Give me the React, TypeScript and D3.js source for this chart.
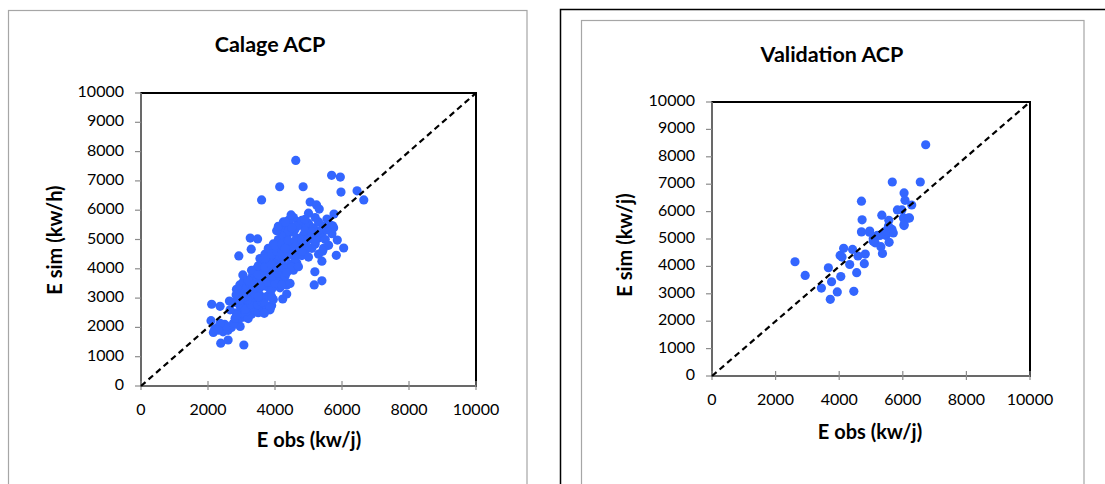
import React from "react";
import * as d3 from "d3";

const xTicks = [0, 2000, 4000, 6000, 8000, 10000];
const yTicks = [0, 1000, 2000, 3000, 4000, 5000, 6000, 7000, 8000, 9000, 10000];

// Calage ACP: [E obs, E sim]
const calageOutliers: [number, number][] = [
  [4620, 7700], [5690, 7190], [5950, 7130], [4140, 6800], [4840, 6800], [5970, 6620],
  [6450, 6660], [6650, 6350], [3600, 6350], [5050, 6280], [5240, 6180], [5320, 6040],
  [5760, 5870], [4480, 5840], [4310, 5590], [4900, 5690], [5000, 5900], [5640, 5500],
  [5720, 5470], [5540, 5330], [3260, 5050], [3480, 5020], [3290, 4670], [5860, 4980],
  [6050, 4710], [5830, 4460], [5420, 4600], [5400, 4260], [2920, 4440], [5190, 3900],
  [5400, 3590], [5170, 3450], [3040, 3790], [2110, 2790], [2360, 2720], [2640, 2900],
  [2090, 2230], [2160, 1830], [2380, 1460], [2600, 1570], [3070, 1400], [4230, 2970],
  [4350, 3140], [4450, 3500], [4700, 4070], [4350, 3870], [3750, 2600], [3860, 2660],
  [3680, 2480], [2960, 2030], [2560, 2030], [2760, 2140], [2360, 2140], [2310, 1910],
  [2810, 2310], [2860, 2420], [2660, 2600], [2960, 2940], [2840, 3110],
];

const calageCore: [number, number][] = [
  [3050, 2350], [3200, 2300], [3300, 2450], [3150, 2550], [3400, 2600], [3500, 2500],
  [3600, 2700], [3250, 2700], [3700, 2550], [3850, 2600], [3900, 2750],
  [2800, 2850], [2900, 3000], [3000, 3100], [3100, 2900], [3200, 3050], [3300, 2850],
  [3350, 3150], [3450, 2950], [3550, 3100], [3650, 2900], [3750, 3050], [3850, 3150],
  [3950, 2950], [3050, 3200], [2950, 2750], [3400, 3200],
  [2850, 3300], [2950, 3450], [3050, 3550],
  [3150, 3350], [3250, 3500], [3350, 3400], [3450, 3600], [3550, 3350], [3650, 3550],
  [3750, 3400], [3850, 3650], [3950, 3450], [4050, 3600], [4150, 3350], [4250, 3550],
  [3300, 3700], [3500, 3700], [3700, 3700], [3900, 3300], [4100, 3750], [4350, 3450],
  [3350, 3850], [3450, 4000], [3550, 3850], [3650, 4100], [3750, 3900], [3850, 4050],
  [3950, 3850], [4050, 4150], [4150, 3950], [4250, 4100], [4350, 3900], [4450, 4150],
  [4550, 3950], [4650, 4200], [3600, 4200], [3800, 4250], [4000, 4300], [4200, 4250],
  [3550, 4350], [3700, 4500], [3850, 4400], [3950, 4600], [4100, 4450], [4250, 4650],
  [4350, 4400], [4500, 4550], [4600, 4350], [4700, 4650], [4800, 4450], [4900, 4600],
  [5000, 4400], [5100, 4700], [3800, 4700], [4150, 4750], [4450, 4750],
  [3950, 4850], [4100, 5000], [4250, 4900], [4350, 5100], [4500, 4850], [4650, 5050],
  [4750, 4900], [4850, 5150], [4950, 4950], [5100, 5100], [5200, 4850], [5300, 5050],
  [5400, 5200], [4200, 5200], [4550, 5250], [4050, 5300], [5050, 5300],
  [4300, 5400], [4450, 5500], [4600, 5350], [4700, 5600], [4850, 5450], [5000, 5550],
  [5150, 5400], [5300, 5600], [5450, 5450], [5550, 5700], [4550, 5750], [4400, 5650],
  [5200, 5750], [4100, 5450], [4250, 5600],
  [5500, 5000], [5600, 4800], [5700, 5200], [5450, 4700], [5300, 4500], [5600, 5500],
  [5750, 5400],
  [2300, 2000], [2450, 1850], [2500, 2100], [2200, 1950], [2600, 1900], [2700, 2000],
  [2900, 2200], [3000, 2500], [2850, 2500],
  [3120, 2620], [3280, 2780], [3480, 2780], [3580, 2880], [3380, 3030], [3180, 2950],
  [3700, 2800], [3900, 3050], [3500, 3050], [3100, 3050],
  [3200, 3600], [3400, 3500], [3600, 3450], [3800, 3550], [4000, 3500], [4200, 3450],
  [3300, 3950], [3500, 3800], [3700, 3800], [3900, 3750], [4100, 3850], [4300, 3750],
  [3500, 4100], [3700, 4050], [3900, 4150], [4100, 4050], [4300, 4000], [4500, 4050],
  [3700, 4350], [3900, 4500], [4050, 4600], [4200, 4500], [4400, 4550], [4600, 4500],
  [4800, 4600], [4000, 4800], [4200, 4850], [4400, 4950], [4600, 4950], [4800, 5000],
  [5000, 5050], [4300, 4700], [4600, 4750], [4900, 4800], [5200, 4950], [5250, 5250],
  [4400, 5300], [4650, 5450], [4900, 5300], [5100, 5250], [4800, 5650], [5400, 5350],
  [4500, 5400],
];

// Validation ACP: [E obs, E sim]
const validationPoints: [number, number][] = [
  [6720, 8440], [5670, 7080], [6550, 7080], [6040, 6680], [6070, 6410], [6280, 6240],
  [4700, 6380], [5830, 6060], [5970, 6060], [5340, 5870], [5560, 5680], [4720, 5700],
  [6020, 5770], [6170, 5760], [6040, 5530], [5660, 5350], [5550, 5470], [4700, 5260],
  [4960, 5290], [5280, 5130], [5470, 5130], [5070, 5010], [5130, 4860], [5570, 4880],
  [5310, 4720], [5360, 4470], [4140, 4660], [4420, 4620], [4030, 4400], [4090, 4340],
  [4590, 4380], [4820, 4450], [4330, 4070], [4790, 4100], [3660, 3950], [4050, 3630],
  [4550, 3770], [3760, 3440], [2610, 4170], [2930, 3670], [3440, 3210], [3940, 3070],
  [4460, 3090], [3720, 2800], [6210, 5770], [5200, 5130], [5070, 4920], [4950, 5250],
  [6040, 5490], [5700, 5220], [5460, 5290],
];

const FONT = "Lato, 'Open Sans', 'DejaVu Sans', sans-serif";
const DOT = "#3366ff";
const AXIS_GRAY = "#8c8c8c";

type PanelProps = {
  points: [number, number][];
  title: string;
  xTitle: string;
  yTitle: string;
  left: number;
  right: number;
  top: number;
  bottom: number;
  titleX: number;
  titleY: number;
  xTitleX: number;
  xTitleY: number;
  yTitleX: number;
  yTitleY: number;
};

function Panel(p: PanelProps) {
  const x = d3.scaleLinear().domain([0, 10000]).range([p.left, p.right]);
  const y = d3.scaleLinear().domain([0, 10000]).range([p.bottom, p.top]);
  const diag = d3.line<number>().x((d) => x(d)).y((d) => y(d))([0, 10000]) || "";
  return (
    <g>
      <text x={p.titleX} y={p.titleY} textAnchor="middle" dominantBaseline="middle"
        fontFamily={FONT} fontWeight={700} fontSize={21.5} fill="#000">{p.title}</text>
      <rect x={p.left} y={p.top} width={p.right - p.left} height={p.bottom - p.top}
        fill="#fff" stroke="#000" strokeWidth={2} />
      <line x1={p.left} x2={p.left} y1={p.top} y2={p.bottom} stroke={AXIS_GRAY} strokeWidth={1.5} />
      <line x1={p.left} x2={p.right} y1={p.bottom} y2={p.bottom} stroke={AXIS_GRAY} strokeWidth={1.5} />
      {yTicks.map((t) => (
        <g key={"y" + t}>
          <line x1={p.left - 6} x2={p.left} y1={y(t)} y2={y(t)} stroke={AXIS_GRAY} strokeWidth={1.2} />
          <text x={p.left - 17} y={y(t)} textAnchor="end" dominantBaseline="middle"
            fontFamily={FONT} fontSize={16} fill="#000">{t}</text>
        </g>
      ))}
      {xTicks.map((t) => (
        <g key={"x" + t}>
          <line x1={x(t)} x2={x(t)} y1={p.bottom - 5} y2={p.bottom + 4} stroke={AXIS_GRAY} strokeWidth={1.2} />
          <text x={x(t)} y={p.bottom + 25} textAnchor="middle" dominantBaseline="middle"
            fontFamily={FONT} fontSize={16} fill="#000">{t}</text>
        </g>
      ))}
      {p.points.map((d, i) => (
        <circle key={i} cx={x(d[0])} cy={y(d[1])} r={4.6} fill={DOT} />
      ))}
      <path d={diag} stroke="#000" strokeWidth={2.2} strokeDasharray="6,4" fill="none" />
      <text x={p.xTitleX} y={p.xTitleY} textAnchor="middle" dominantBaseline="middle"
        fontFamily={FONT} fontWeight={700} fontSize={20} fill="#000">{p.xTitle}</text>
      <text transform={`translate(${p.yTitleX},${p.yTitleY}) rotate(-90)`} textAnchor="middle"
        dominantBaseline="middle" fontFamily={FONT} fontWeight={700} fontSize={20} fill="#000">{p.yTitle}</text>
    </g>
  );
}

export default function App() {
  const calage = [...calageCore, ...calageOutliers];
  return (
    <svg width={1105} height={484} style={{ position: "absolute", left: 0, top: 0, background: "#fff" }}>
      <rect x={0} y={0} width={1105} height={484} fill="#fff" />
      <rect x={8.5} y={10.5} width={518.5} height={500} fill="none" stroke="#a6a6a6" strokeWidth={1.2} />
      <rect x={560.5} y={9.5} width={560} height={500} fill="none" stroke="#000" strokeWidth={1.5} />
      <rect x={581.5} y={20.5} width={502.5} height={500} fill="none" stroke="#a6a6a6" strokeWidth={1.2} />
      <Panel points={calage} title="Calage ACP" xTitle="E obs (kw/j)" yTitle="E sim (kw/h)"
        left={141} right={476} top={93} bottom={386}
        titleX={270} titleY={46} xTitleX={309} xTitleY={442} yTitleX={57} yTitleY={240} />
      <Panel points={validationPoints} title="Validation ACP" xTitle="E obs (kw/j)" yTitle="E sim (kw/j)"
        left={712} right={1030} top={102} bottom={376}
        titleX={832} titleY={56} xTitleX={870} xTitleY={434} yTitleX={627} yTitleY={245} />
    </svg>
  );
}
